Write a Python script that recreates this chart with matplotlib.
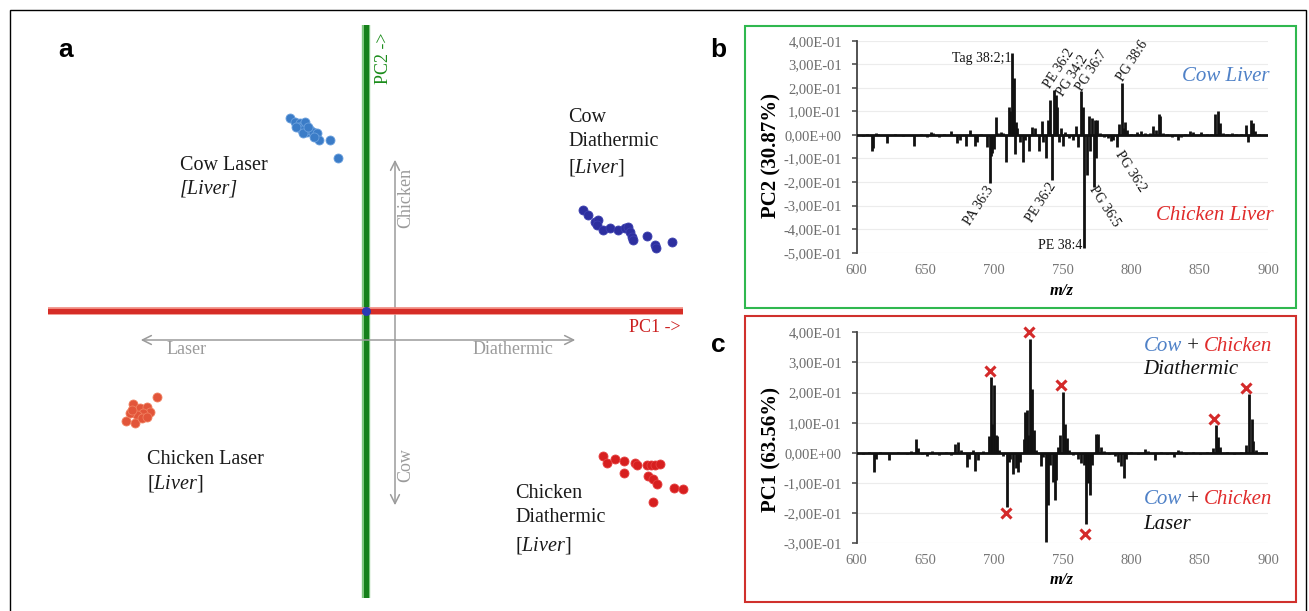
import numpy as np
import matplotlib.pyplot as plt
from matplotlib.patches import Rectangle
from matplotlib.ticker import FuncFormatter

plt.rcParams['font.family'] = ['Liberation Serif', 'DejaVu Serif']
plt.rcParams['mathtext.fontset'] = 'custom'
plt.rcParams['mathtext.rm'] = 'Liberation Serif'
plt.rcParams['mathtext.it'] = 'Liberation Serif:italic'
plt.rcParams['mathtext.bf'] = 'Liberation Serif:bold'

# ---- panel a: PCA scores ----
cow_laser_x = [-0.76, -0.71, -0.66, -0.63, -0.61, -0.68, -0.64, -0.59, -0.56, -0.53, -0.49, -0.63, -0.47, -0.36, -0.28, -0.70, -0.58, -0.52]
cow_laser_y = [1.93, 1.89, 1.88, 1.86, 1.89, 1.84, 1.81, 1.79, 1.81, 1.79, 1.78, 1.78, 1.71, 1.71, 1.53, 1.84, 1.84, 1.74]
cow_dia_x = [2.17, 2.22, 2.29, 2.32, 2.31, 2.37, 2.44, 2.52, 2.59, 2.62, 2.64, 2.66, 2.67, 2.81, 2.89, 2.90, 3.06]
cow_dia_y = [1.01, 0.96, 0.89, 0.91, 0.86, 0.81, 0.83, 0.81, 0.83, 0.84, 0.79, 0.74, 0.71, 0.75, 0.66, 0.63, 0.69]
chk_laser_x = [-2.09, -2.33, -2.26, -2.19, -2.16, -2.23, -2.29, -2.36, -2.40, -2.31, -2.24, -2.19, -2.34]
chk_laser_y = [-0.86, -0.93, -0.97, -0.96, -1.01, -1.02, -1.04, -1.02, -1.10, -1.12, -1.07, -1.06, -0.99]
chk_dia_x = [2.37, 2.41, 2.49, 2.58, 2.69, 2.71, 2.58, 2.81, 2.85, 2.89, 2.94, 2.82, 2.87, 2.91, 3.08, 3.17, 2.87]
chk_dia_y = [-1.45, -1.52, -1.48, -1.50, -1.52, -1.54, -1.62, -1.54, -1.54, -1.54, -1.53, -1.65, -1.68, -1.73, -1.77, -1.78, -1.91]

# ---- panel b: PC2 loadings ----
pc2_mz = [605, 608, 611, 612, 614, 616, 622, 628, 634, 642, 647, 651, 654, 656, 660, 664, 669, 673, 675, 680,
          683, 686, 688, 691, 695, 697, 698, 699, 700, 701.5, 703, 705, 707, 709, 711, 712, 713, 714, 715, 715.5,
          716, 717, 719, 721, 723, 725.5, 728, 730, 733, 735, 736, 738, 739.5, 741, 742, 743.5, 745, 746, 747.5, 749,
          750, 752, 755, 757.5, 760, 761.5, 763.3, 765.2, 766, 767.7, 769.5, 770.3, 771.6, 772.8, 773.5, 774.6, 775.4, 777, 780, 783,
          785.6, 787, 790, 791.5, 793.3, 794.5, 795.8, 797, 800, 804, 807, 810, 814, 816, 818, 820, 821.3, 823, 826, 830,
          834, 836, 839, 842.5, 845, 850.7, 855, 858, 861, 863.5, 864.8, 867, 870, 873.7, 876, 880, 883.4, 885.4, 887, 888.5,
          890, 893]
pc2_val = [-0.005, 0.004, -0.067, -0.055, 0.008, 0.005, -0.035, 0.004, -0.006, -0.045, 0.005, -0.01, 0.012, 0.008, -0.008, 0.005, 0.015, -0.035, -0.02, -0.045,
           0.022, -0.045, -0.03, 0.006, -0.05, -0.205, -0.09, -0.075, -0.06, 0.078, 0.008, 0.012, 0.01, -0.117, 0.118, 0.1, 0.346, 0.15, 0.242, -0.081,
           0.054, 0.03, -0.03, -0.117, -0.02, -0.07, 0.035, 0.03, -0.07, 0.058, -0.03, -0.1, 0.064, 0.15, -0.19, 0.19, 0.171, 0.12, -0.03, 0.03,
           -0.045, 0.012, -0.015, -0.02, 0.036, -0.05, 0.185, 0.118, -0.48, -0.17, 0.082, -0.07, 0.07, -0.22, 0.065, -0.1, 0.065, 0.01, -0.008, -0.015,
           -0.025, -0.02, -0.052, 0.045, 0.22, 0.03, 0.054, 0.02, 0.006, 0.012, 0.015, 0.008, 0.01, 0.037, 0.02, 0.09, 0.08, 0.01, 0.005, -0.008,
           -0.02, -0.01, 0.005, 0.015, 0.012, 0.012, 0.006, 0.004, 0.09, 0.1, 0.05, 0.01, 0.006, 0.01, 0.005, 0.006, 0.043, -0.03, 0.062, 0.05,
           0.015, 0.004]

# ---- panel c: PC1 loadings ----
pc1_mz = [605, 609, 612.8, 614, 617, 623.5, 630, 637, 640, 643.4, 644.5, 648, 651.6, 655, 660, 665, 669, 672, 674, 676,
          680.4, 682.1, 684.8, 686.5, 688.5, 692, 696.2, 698, 699, 700, 701.6, 702.6, 704, 707, 709.8, 710.8, 712, 714.1, 715.9, 717.9,
          719.2, 721.8, 723, 724.3, 725, 726.1, 727.1, 728.1, 729.4, 731, 734.5, 736, 737.9, 739.6, 740.9, 743, 744.2, 745.5, 746.8, 748,
          750.1, 751.6, 753.2, 755, 758, 761, 763.4, 765.9, 767, 768.5, 770.3, 771.5, 774.1, 776.2, 777.9, 780, 784, 788, 790.7, 792.5,
          794.5, 796, 800, 805, 809.9, 812, 817.5, 822, 826, 831.5, 834.1, 836, 840, 845, 850, 855, 859.6, 861.7, 863.5, 865,
          870, 875, 880, 883.9, 885.9, 887.7, 889, 891, 895]
pc1_val = [-0.004, 0.003, -0.063, -0.02, 0.004, -0.025, 0.003, -0.004, 0.006, 0.045, 0.015, -0.005, -0.01, 0.005, -0.006, 0.004, -0.008, 0.03, 0.035, 0.01,
           -0.047, -0.02, 0.008, -0.06, -0.025, 0.005, 0.056, 0.252, 0.097, 0.225, 0.058, 0.055, 0.01, -0.01, -0.18, -0.03, -0.02, -0.07, -0.05, -0.065,
           -0.03, 0.047, 0.136, 0.142, 0.06, 0.378, 0.175, 0.212, 0.075, 0.01, -0.045, -0.015, -0.296, -0.172, -0.04, -0.096, -0.157, -0.09, 0.02, 0.058,
           0.203, 0.095, 0.05, 0.01, -0.008, -0.02, -0.035, -0.04, -0.235, -0.1, -0.14, -0.04, 0.062, 0.062, 0.02, 0.006, -0.004, -0.01, -0.03, -0.045,
           -0.085, -0.02, 0.004, -0.005, 0.013, 0.006, -0.025, 0.004, -0.005, -0.015, 0.01, 0.006, -0.004, 0.003, -0.005, 0.004, 0.015, 0.094, 0.053, 0.02,
           0.004, -0.004, 0.003, 0.025, 0.195, 0.114, 0.04, 0.01, 0.003]

marked_mz = [697.5, 709, 725.6, 748.6, 766.5, 860.2, 883.9]
marked_val = [0.271, -0.198, 0.4, 0.225, -0.268, 0.114, 0.216]

W, H = 1309, 611
fig = plt.figure(figsize=(W / 100, H / 100), dpi=100)


def box(x0, y0, x1, y1, color, lw=1.3):
    fig.add_artist(Rectangle((x0 / W, 1 - y1 / H), (x1 - x0) / W, (y1 - y0) / H,
                             transform=fig.transFigure, fill=False, edgecolor=color, lw=lw))


box(10, 10, 1306, 640, 'black', 1.0)
box(745, 26, 1296, 308, '#2fb84f', 1.5)
box(745, 316, 1296, 602, '#d0312d', 1.5)

# ---------- panel a ----------
ax = fig.add_axes([48 / W, 1 - 598 / H, 635 / W, 573 / H])
ax.set_xlim(-3.18, 3.17)
ax.set_ylim(-2.87, 2.86)
ax.axis('off')

ax.axvline(0, color='#7fc77f', lw=6, zorder=2)
ax.axvline(0, color='#15801a', lw=3.6, zorder=3)
ax.axhline(0, color='#f08a80', lw=5.5, zorder=4)
ax.axhline(0, color='#d62d27', lw=3.6, zorder=5)
ax.scatter([0], [0], s=30, color='#2a3bb5', zorder=6)

grey = '#9b9b9b'
ax.annotate('', xy=(-2.28, -0.29), xytext=(2.12, -0.29),
            arrowprops=dict(arrowstyle='<->', color=grey, lw=1.1, mutation_scale=16))
ax.annotate('', xy=(0.29, 1.54), xytext=(0.29, -1.97),
            arrowprops=dict(arrowstyle='<->', color=grey, lw=1.1, mutation_scale=16))
ax.text(-1.79, -0.39, 'Laser', color=grey, fontsize=13, ha='center', va='center')
ax.text(1.47, -0.39, 'Diathermic', color=grey, fontsize=13, ha='center', va='center')
ax.text(0.40, 1.13, 'Chicken', color=grey, fontsize=13, ha='center', va='center', rotation=90)
ax.text(0.40, -1.54, 'Cow', color=grey, fontsize=13, ha='center', va='center', rotation=90)
ax.text(0.17, 2.53, 'PC2 ->', color='#1a8c1a', fontsize=13, ha='center', va='center', rotation=90)
ax.text(2.89, -0.17, 'PC1 ->', color='#cc2121', fontsize=13, ha='center', va='center')

kw = dict(s=42, zorder=7, linewidths=0.6, clip_on=False)
ax.scatter(cow_laser_x, cow_laser_y, color='#3b7cc7', edgecolors='#6aa0dd', **kw)
ax.scatter(cow_dia_x, cow_dia_y, color='#2d2f9f', edgecolors='#3d40b0', **kw)
ax.scatter(chk_laser_x, chk_laser_y, color='#e2553a', edgecolors='#f08060', **kw)
ax.scatter(chk_dia_x, chk_dia_y, color='#d71f1f', edgecolors='#e54040', **kw)

lab = dict(fontsize=14.5, color='#1a1a1a', ha='left', va='center')
ax.text(-1.86, 1.46, 'Cow Laser', **lab)
ax.text(-1.86, 1.22, '[Liver]', style='italic', **lab)
for yy, t in zip([1.94, 1.70, 1.44], ['Cow', 'Diathermic', r'[$\mathit{Liver}$]']):
    ax.text(2.02, yy, t, **lab)
ax.text(-2.19, -1.48, 'Chicken Laser', **lab)
ax.text(-2.19, -1.73, r'[$\mathit{Liver}$]', **lab)
for yy, t in zip([-1.82, -2.07, -2.34], ['Chicken', 'Diathermic', r'[$\mathit{Liver}$]']):
    ax.text(1.49, yy, t, **lab)

for x, y, t in [(66, 50, 'a'), (718, 50, 'b'), (718, 345, 'c')]:
    fig.text(x / W, 1 - y / H, t, fontsize=19, fontweight='bold', family='Liberation Sans',
             ha='center', va='center')


def sci_comma(v, pos):
    v = round(v, 2) + 0.0
    return f'{v:.2E}'.replace('.', ',')


# ---------- spectra ----------
def spec_axes(top, bottom, lo, hi, mz, val):
    a = fig.add_axes([856.5 / W, 1 - bottom / H, 412 / W, (bottom - top) / H])
    a.set_xlim(600, 900)
    a.set_ylim(lo, hi)
    a.set_yticks(np.round(np.arange(lo, hi + 0.001, 0.1), 2))
    a.set_xticks(range(600, 901, 50))
    a.yaxis.set_major_formatter(FuncFormatter(sci_comma))
    for s in ['top', 'right', 'bottom']:
        a.spines[s].set_visible(False)
    a.spines['left'].set_color('#444444')
    a.spines['left'].set_linewidth(1.3)
    a.tick_params(axis='y', length=3.5, width=1.1, color='#444444', labelsize=10.5,
                  labelcolor='#6c6c6c', pad=7)
    a.tick_params(axis='x', length=0, labelsize=10.5, labelcolor='#777777', pad=8)
    a.grid(axis='y', color='#ececec', lw=0.8)
    a.set_axisbelow(True)
    a.axhline(0, color='#111111', lw=2.0, zorder=3)
    a.vlines(mz, 0, val, color='#111111', lw=2.0, zorder=3)
    a.patch.set_alpha(0)
    return a


axb = spec_axes(40.7, 252.7, -0.5, 0.4, pc2_mz, pc2_val)
axc = spec_axes(332.3, 543.3, -0.3, 0.4, pc1_mz, pc1_val)

fig.text(771 / W, 1 - 156 / H, 'PC2 (30.87%)', rotation=90, fontsize=15, fontweight='bold',
         ha='center', va='center')
fig.text(771 / W, 1 - 450 / H, 'PC1 (63.56%)', rotation=90, fontsize=15, fontweight='bold',
         ha='center', va='center')
fig.text(1062 / W, 1 - 291 / H, 'm/z', fontsize=12, fontweight='bold', style='italic',
         ha='center', va='center')
fig.text(1062 / W, 1 - 580 / H, 'm/z', fontsize=12, fontweight='bold', style='italic',
         ha='center', va='center')

pk = dict(fontsize=10, color='#111111', rotation_mode='anchor', zorder=5)
axb.text(712.5, 0.325, 'Tag 38:2;1', ha='right', va='center', **pk)
axb.text(739.0, 0.205, 'PE 36:2', ha='left', va='center', rotation=57, **pk)
axb.text(748.0, 0.168, 'PG 34:2', ha='left', va='center', rotation=57, **pk)
axb.text(762.0, 0.189, 'PG 36:7', ha='left', va='center', rotation=57, **pk)
axb.text(792.0, 0.232, 'PG 38:6', ha='left', va='center', rotation=57, **pk)
axb.text(790.5, -0.071, 'PG 36:2', ha='left', va='center', rotation=-57, **pk)
axb.text(697.5, -0.223, 'PA 36:3', ha='right', va='center', rotation=57, **pk)
axb.text(743.5, -0.209, 'PE 36:2', ha='right', va='center', rotation=57, **pk)
axb.text(771.6, -0.223, 'PG 36:5', ha='left', va='center', rotation=-57, **pk)
axb.text(764.4, -0.47, 'PE 38:4', ha='right', va='center', **pk)

blue, red = '#4f81c7', '#e02b2b'
axb.text(900.5, 0.246, 'Cow Liver', color=blue, style='italic', fontsize=15, ha='right', va='center')
axb.text(904, -0.344, 'Chicken Liver', color=red, style='italic', fontsize=15, ha='right', va='center')

axc.plot(marked_mz, marked_val, 'x', color='#d42a2a', ms=7, mew=2.2, zorder=6, clip_on=False)


def cow_chicken(a, y):
    t1 = a.text(809, y, 'Cow', color=blue, style='italic', fontsize=15, ha='left', va='center')
    t2 = a.annotate(' + ', xy=(1, 0), xycoords=t1, va='bottom', ha='left', fontsize=15, color='#111111')
    a.annotate('Chicken', xy=(1, 0), xycoords=t2, va='bottom', ha='left', fontsize=15,
               color=red, style='italic')


cow_chicken(axc, 0.352)
axc.text(809, 0.278, 'Diathermic', style='italic', fontsize=15, color='#111111', ha='left', va='center')
cow_chicken(axc, -0.155)
axc.text(809, -0.238, 'Laser', style='italic', fontsize=15, color='#111111', ha='left', va='center')

fig.savefig('out.png', dpi=100)
